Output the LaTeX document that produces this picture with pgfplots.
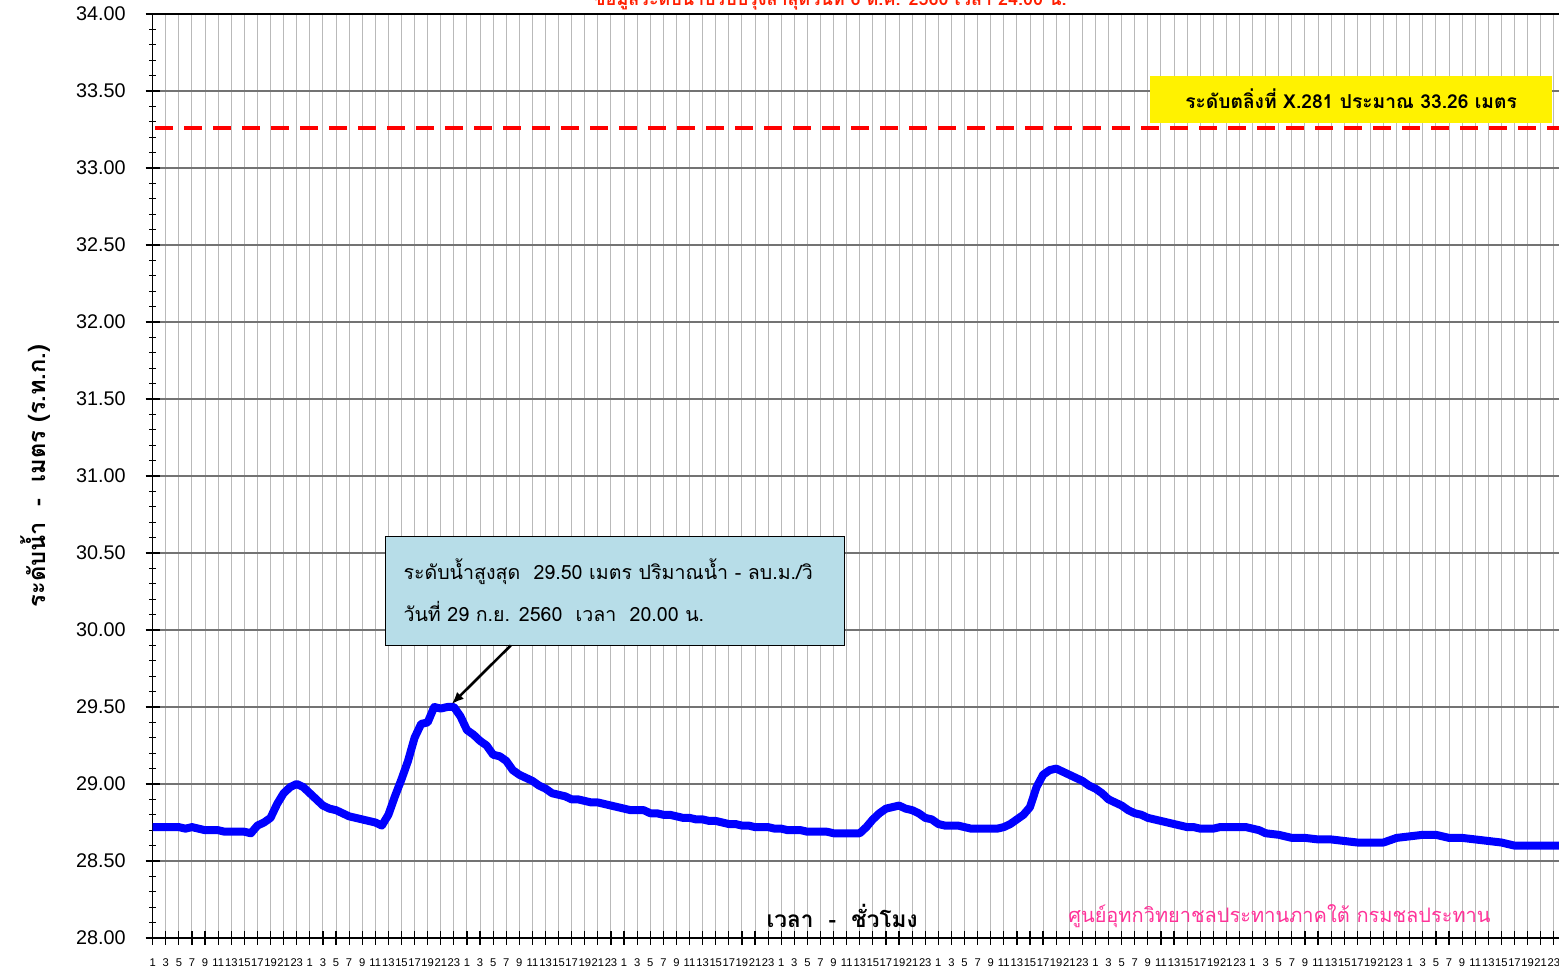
\documentclass[border=0pt]{standalone}
\usepackage{fontspec}
\setmainfont{Liberation Sans}
\newfontfamily\thai[Script=Thai]{Loma}
\usepackage{pgfplots}
\pgfplotsset{compat=1.18}
\usetikzlibrary{arrows.meta}
\definecolor{lineblue}{RGB}{0,0,255}
\definecolor{boxblue}{RGB}{183,221,232}
\definecolor{pinktxt}{RGB}{255,51,153}
\definecolor{titlered}{RGB}{255,30,0}
\begin{document}
\begin{tikzpicture}
\begin{axis}[
  scale only axis, width=703.8pt, height=462pt,
  at={(0,0)}, anchor=south west,
  xmin=1, xmax=216, ymin=28, ymax=34,
  xtick={1,3,...,215},
  ytick={28,28.5,29,29.5,30,30.5,31,31.5,32,32.5,33,33.5,34},
  minor y tick num=4,
  xtick pos=bottom, ytick pos=left,
  tick align=center, major tick length=7pt, minor tick length=3.5pt,
  xmajorgrids, ymajorgrids,
  major x grid style={gray!55, line width=0.5pt},
  major y grid style={black!55, line width=0.6pt},
  axis line style={black, line width=0.8pt},
  tick style={black, line width=0.6pt},
  /pgf/number format/assume math mode=true,
  xticklabel={\pgfmathtruncatemacro{\hh}{mod(round(\tick)-1,24)+1}\hh},
  xticklabel style={font=\fontsize{5.6}{6}\selectfont, inner sep=0pt, yshift=-6.5pt},
  yticklabel style={font=\fontsize{9.9}{11}\selectfont, xshift=-6.5pt, /pgf/number format/.cd, fixed, fixed zerofill, precision=2},
  clip=false,
]
\addplot[red, line width=2pt, dash pattern=on 9pt off 5.5pt] coordinates {(1.4,33.26) (216,33.26)};
\addplot[lineblue, line width=4pt, line join=round, no markers] coordinates {
(1,28.72) (3,28.72) (5,28.72) (6,28.71) (7,28.72) (8,28.71) (9,28.70) (11,28.70) (12,28.69) (15,28.69)
(16,28.68) (17,28.73) (18,28.75) (19,28.78) (20,28.87) (21,28.94) (22,28.98) (23,29.00) (24,28.98) (25,28.94)
(26,28.90) (27,28.86) (28,28.84) (29,28.83) (30,28.81) (31,28.79) (32,28.78) (33,28.77) (34,28.76) (35,28.75)
(36,28.73) (37,28.80) (38,28.92) (39,29.03) (40,29.15) (41,29.30) (42,29.39) (43,29.40) (44,29.50) (45,29.49)
(46,29.50) (47,29.50) (48,29.44) (49,29.35) (50,29.32) (51,29.28) (52,29.25) (53,29.19) (54,29.18) (55,29.15)
(56,29.09) (57,29.06) (58,29.04) (59,29.02) (60,28.99) (61,28.97) (62,28.94) (63,28.93) (64,28.92) (65,28.90)
(66,28.90) (67,28.89) (68,28.88) (69,28.88) (70,28.87) (71,28.86) (72,28.85) (73,28.84) (74,28.83) (75,28.83)
(76,28.83) (77,28.81) (78,28.81) (79,28.80) (80,28.80) (81,28.79) (82,28.78) (83,28.78) (84,28.77) (85,28.77)
(86,28.76) (87,28.76) (88,28.75) (89,28.74) (90,28.74) (91,28.73) (92,28.73) (93,28.72) (94,28.72) (95,28.72)
(96,28.71) (97,28.71) (98,28.70) (99,28.70) (100,28.70) (101,28.69) (102,28.69) (103,28.69) (104,28.69) (105,28.68)
(106,28.68) (107,28.68) (108,28.68) (109,28.68) (110,28.72) (111,28.77) (112,28.81) (113,28.84) (114,28.85) (115,28.86)
(116,28.84) (117,28.83) (118,28.81) (119,28.78) (120,28.77) (121,28.74) (122,28.73) (123,28.73) (124,28.73) (125,28.72)
(126,28.71) (127,28.71) (128,28.71) (129,28.71) (130,28.71) (131,28.72) (132,28.74) (133,28.77) (134,28.80) (135,28.85)
(136,28.98) (137,29.06) (138,29.09) (139,29.10) (140,29.08) (141,29.06) (142,29.04) (143,29.02) (144,28.99) (145,28.97)
(146,28.94) (147,28.90) (148,28.88) (149,28.86) (150,28.83) (151,28.81) (152,28.80) (153,28.78) (154,28.77) (155,28.76)
(156,28.75) (157,28.74) (158,28.73) (159,28.72) (160,28.72) (161,28.71) (162,28.71) (163,28.71) (164,28.72) (165,28.72)
(166,28.72) (167,28.72) (168,28.72) (169,28.71) (170,28.70) (171,28.68) (173,28.67) (175,28.65) (177,28.65) (179,28.64)
(181,28.64) (183,28.63) (185,28.62) (187,28.62) (189,28.62) (191,28.65) (193,28.66) (195,28.67) (197,28.67) (199,28.65)
(201,28.65) (203,28.64) (205,28.63) (207,28.62) (209,28.60) (211,28.60) (213,28.60) (215,28.60) (216,28.60)
};
% annotation box
\draw[black, line width=0.5pt, fill=boxblue] (axis cs:36.5,30.61) rectangle (axis cs:106.6,29.90);
\node[anchor=west, inner sep=0pt] at (axis cs:39.25,30.377) {\thai\fontsize{9.8}{12}\selectfont ระดับน้ำสูงสุด\ \ 29.50 เมตร ปริมาณน้ำ - ลบ.ม./วิ};
\node[anchor=west, inner sep=0pt] at (axis cs:39.25,30.123) {\thai\fontsize{9.8}{12}\selectfont วันที่ 29 ก.ย. 2560\ \ เวลา\ \ 20.00 น.};
\draw[-{Latex[length=6pt,width=5pt]}, line width=1.3pt] (axis cs:55.7,29.90) -- (axis cs:46.7,29.52);
% yellow box
\fill[yellow] (axis cs:153.35,33.597) rectangle (axis cs:214.76,33.292);
\node[inner sep=0pt] at (axis cs:184.05,33.448) {\thai\bfseries\fontsize{9.6}{11}\selectfont ระดับตลิ่งที่ X.281 ประมาณ 33.26 เมตร};
% axis title texts
\node[inner sep=0pt] at (axis cs:106.3,28.143) {\thai\bfseries\fontsize{11.3}{13}\selectfont เวลา\ \ -\ \ ชั่วโมง};
\node[anchor=west, inner sep=0pt, text=pinktxt] at (axis cs:140.8,28.143) {\thai\fontsize{10}{12}\selectfont ศูนย์อุทกวิทยาชลประทานภาคใต้ กรมชลประทาน};
\node[anchor=base, inner sep=0pt, text=titlered] at (axis cs:104.45,34.052) {\thai\bfseries\fontsize{9}{11}\selectfont ข้อมูลระดับน้ำปรับปรุงล่าสุดวันที่ 6 ต.ค. 2560 เวลา 24.00 น.};
\end{axis}
\node[rotate=90, inner sep=0pt] at (-58.5pt,231pt) {\thai\bfseries\fontsize{11.8}{13}\selectfont ระดับน้ำ\ \ -\ \ เมตร (ร.ท.ก.)};
\pgfresetboundingbox
\useasboundingbox (-76.35pt,-15pt) rectangle (703.15pt,469pt);
\end{tikzpicture}
\end{document}
